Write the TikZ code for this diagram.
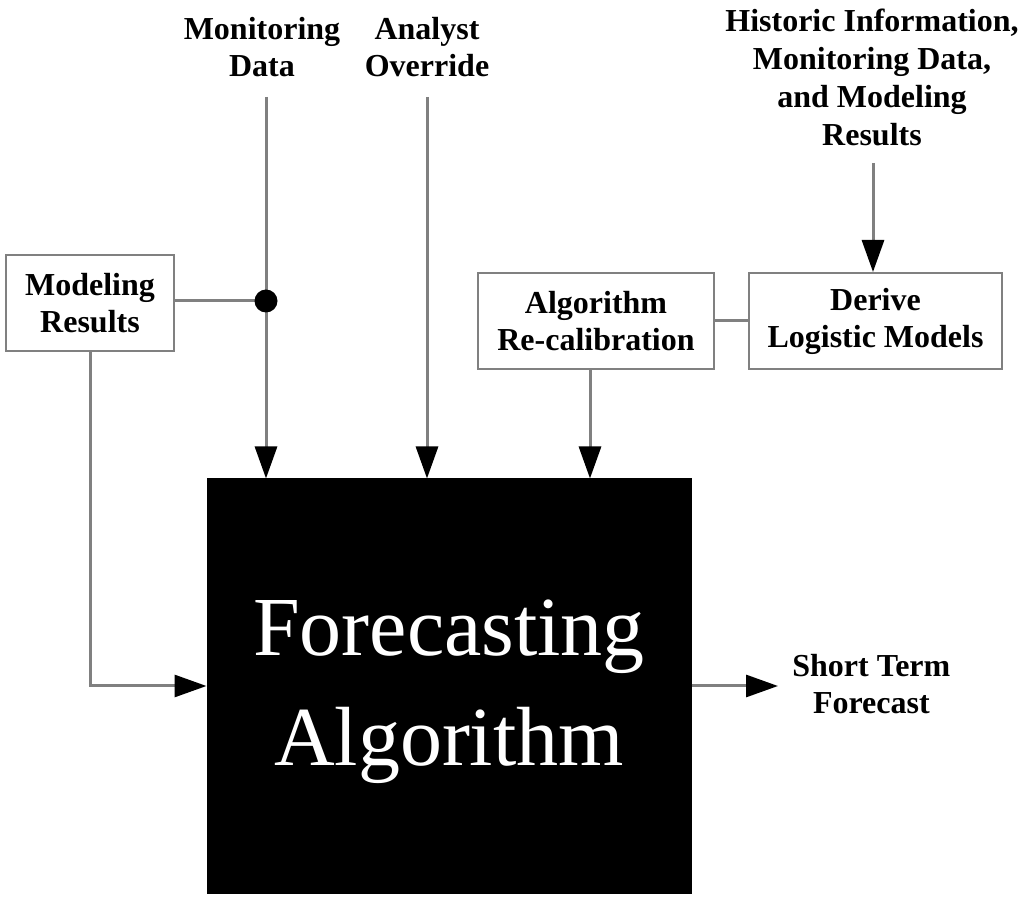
\documentclass[tikz,border=0pt]{standalone}
\usepackage{fontspec}
\setmainfont{Liberation Serif}
\usetikzlibrary{arrows.meta,calc}
\definecolor{linegray}{HTML}{808080}
\begin{document}
\begin{tikzpicture}[x=0.5pt,y=-0.5pt,
  conn/.style={draw=linegray,line width=1.5pt},
  arr/.style={conn,-{Triangle[length=16pt,width=11pt,color=black]}},
  box/.style={draw=linegray,line width=1pt,fill=white,minimum height=48pt,inner sep=0pt,
    align=center,font=\bfseries\fontsize{16}{18.5}\selectfont},
  lbl/.style={align=center,inner sep=0pt,anchor=north,font=\bfseries\fontsize{16}{18.5}\selectfont},
  bigbox/.style={fill=black,draw=black,line width=0.5pt,minimum width=242pt,minimum height=207pt,inner sep=0pt}]
\useasboundingbox (0,0) rectangle (1024,903);
% main block
\node[bigbox] (fa) at (449,686) {};
\node[text=white,align=center,font=\fontsize{42}{55}\selectfont] (fat) at (449,692) {Forecasting\\Algorithm};
% boxes
\node[box,minimum width=84pt] (mr) at (90,303) {Modeling\\Results};
\node[box,minimum width=118pt] (ar) at (596,321) {Algorithm\\Re-calibration};
\node[box,minimum width=126.5pt] (dl) at (875.5,321) {Derive\\Logistic Models};
% labels
\node[lbl] (md) at (262,17) {Monitoring\\Data};
\node[lbl] (ao) at (427,17) {Analyst\\Override};
\node[lbl,font=\bfseries\fontsize{16}{19}\selectfont] (hi) at (872,9) {Historic Information,\\Monitoring Data,\\and Modeling\\Results};
\node[lbl,anchor=west] (stf) at (792,684) {Short Term\\Forecast};
% coordinates
\coordinate (mdtop) at (266,97);
\coordinate (aotop) at (427,97);
\coordinate (hitop) at (873,163);
\coordinate (artap) at (590,369);
\coordinate (outend) at (778,686);
\coordinate (dotc) at (266,301);
% connectors
\draw[conn] (mr.east |- dotc) -- (dotc);
\draw[arr] (mdtop) -- (mdtop |- fa.north);
\draw[arr] (aotop) -- (aotop |- fa.north);
\draw[arr] (artap) -- (artap |- fa.north);
\draw[arr] (hitop) -- (hitop |- dl.north);
\draw[conn] (ar.east) -- (dl.west);
\draw[arr] (mr.south) -- (mr.south |- fa.west) -- (fa.west);
\draw[arr] (fa.east) -- (outend);
\node[circle,fill=black,minimum size=11.5pt,inner sep=0pt] (dot) at (dotc) {};
\end{tikzpicture}
\end{document}
